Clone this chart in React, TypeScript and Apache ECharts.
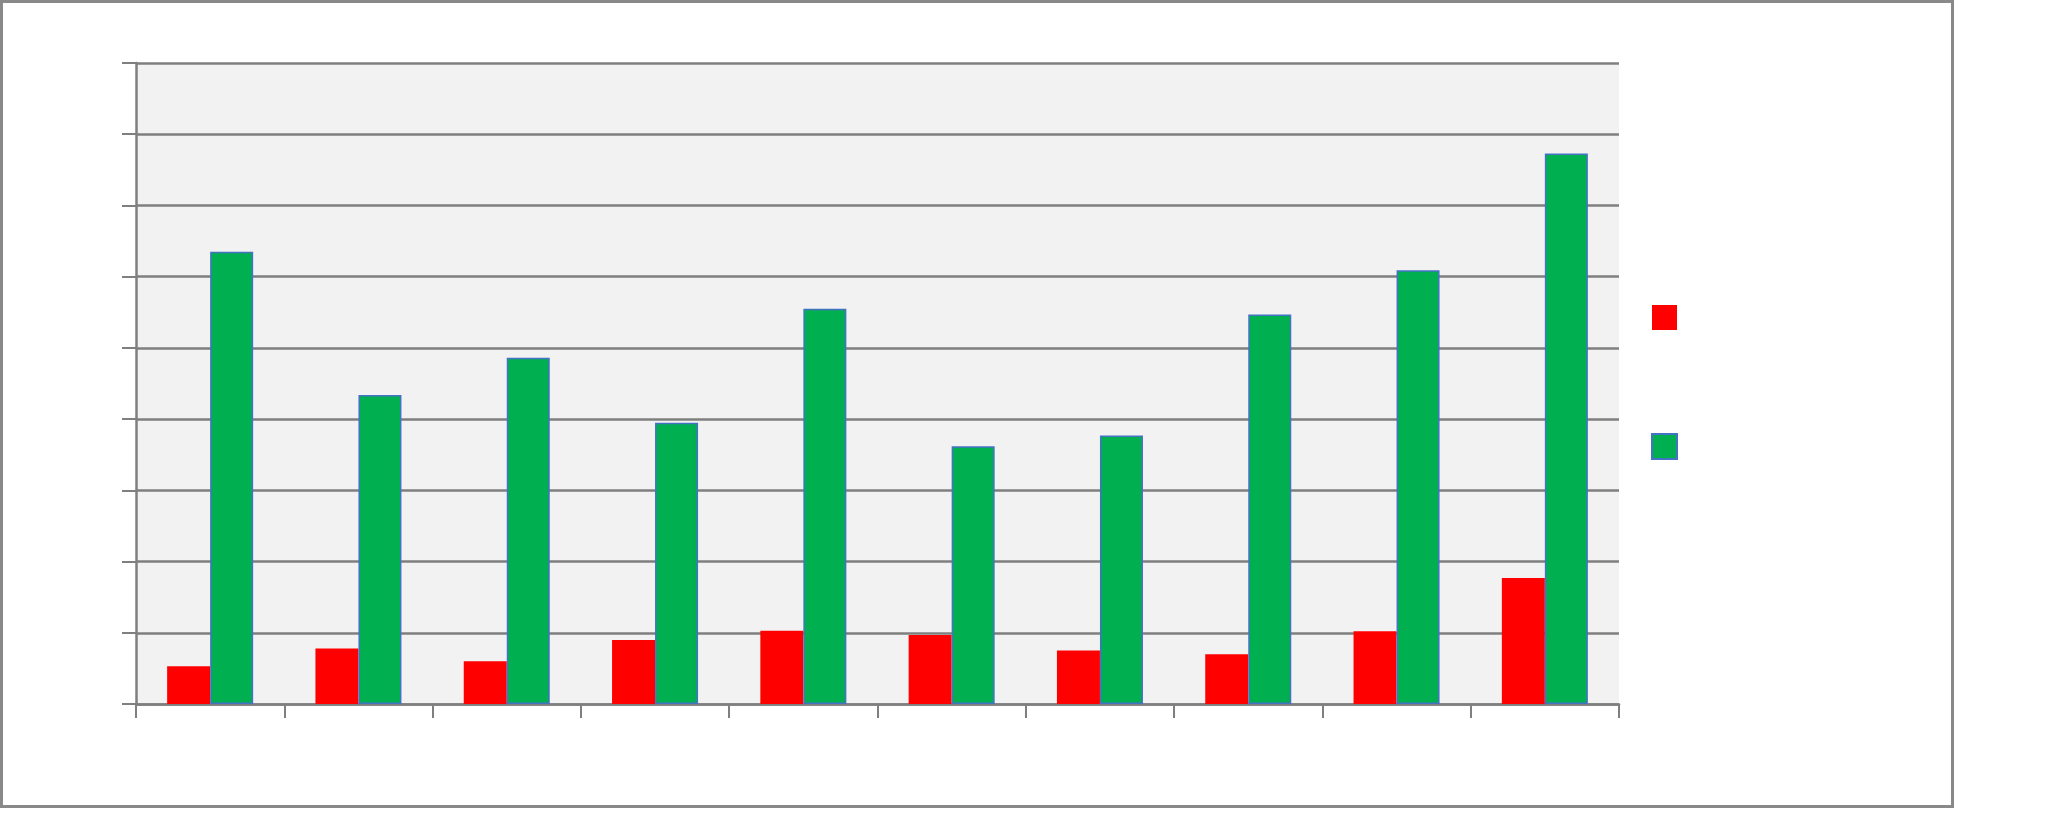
import React, { useEffect, useRef } from "react";
import * as echarts from "echarts";

const categories = ["1", "2", "3", "4", "5", "6", "7", "8", "9", "10"];
const seriesNames = ["Series 1", "Series 2"];
const redValues = [0.53, 0.78, 0.6, 0.9, 1.03, 0.97, 0.75, 0.7, 1.02, 1.77];
const greenValues = [6.35, 4.34, 4.86, 3.95, 5.55, 3.62, 3.77, 5.47, 6.09, 7.73];
const yMin = 0;
const yMax = 9;
const yInterval = 1;

export default function App() {
  const ref = useRef<HTMLDivElement>(null);
  useEffect(() => {
    if (!ref.current) return;
    const chart = echarts.init(ref.current, null, { renderer: "svg" });
    const gray = "#7f7f7f";
    chart.setOption({
      animation: false,
      backgroundColor: "#ffffff",
      graphic: [
        {
          type: "rect",
          shape: { x: 1.5, y: 1.5, width: 1951, height: 805 },
          style: { fill: "none", stroke: "#898989", lineWidth: 3 },
          silent: true,
          z: 100,
        },
      ],
      legend: {
        orient: "vertical",
        left: 1651,
        top: 305,
        padding: 0,
        itemWidth: 25,
        itemHeight: 25,
        itemGap: 103,
        icon: "rect",
        formatter: () => "",
        data: seriesNames,
        selectedMode: false,
      },
      grid: {
        left: 136,
        right: 432,
        top: 63,
        bottom: 130,
        show: true,
        backgroundColor: "#f2f2f2",
        borderWidth: 0,
      },
      xAxis: {
        type: "category",
        data: categories,
        boundaryGap: true,
        axisLine: { show: true, lineStyle: { color: gray, width: 2.5 } },
        axisTick: { show: true, length: 14, interval: 0, lineStyle: { color: gray, width: 2 } },
        axisLabel: { show: false },
        splitLine: { show: false },
      },
      yAxis: {
        type: "value",
        min: yMin,
        max: yMax,
        interval: yInterval,
        axisLine: { show: true, lineStyle: { color: gray, width: 2.5 } },
        axisTick: { show: true, length: 14, lineStyle: { color: gray, width: 2 } },
        axisLabel: { show: false },
        splitLine: { show: true, lineStyle: { color: gray, width: 2.5 } },
      },
      series: [
        {
          name: seriesNames[0],
          type: "bar",
          data: redValues,
          barWidth: "29%",
          barGap: "0%",
          itemStyle: { color: "#ff0000" },
        },
        {
          name: seriesNames[1],
          type: "bar",
          data: greenValues,
          barWidth: "29%",
          barGap: "0%",
          itemStyle: { color: "#00b050", borderColor: "#4472c4", borderWidth: 1.5 },
        },
      ],
    });
    return () => chart.dispose();
  }, []);
  return (
    <div
      ref={ref}
      style={{ position: "absolute", left: 0, top: 0, width: 2051, height: 834 }}
    />
  );
}
